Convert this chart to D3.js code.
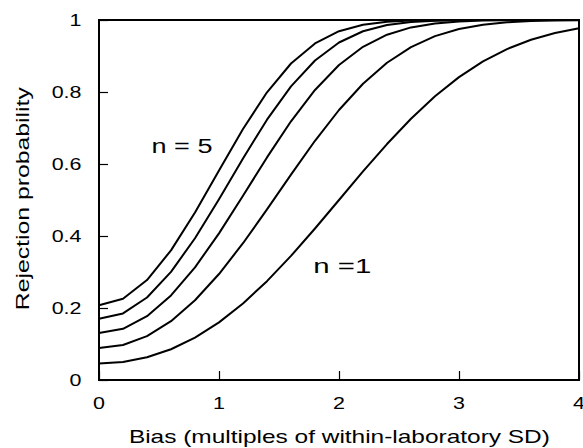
<!DOCTYPE html>
<html>
<head>
<meta charset="utf-8">
<script src="https://cdn.jsdelivr.net/npm/d3@7"></script>
<style>
  html, body { margin: 0; padding: 0; background: #fff; }
  svg { display: block; }
  text { font-family: "Liberation Sans", Arial, sans-serif; fill: #000; }
</style>
</head>
<body>
<svg id="chart" width="583" height="448"></svg>
<script>
// Bias values (multiples of within-laboratory SD)
const bias = [0, 0.2, 0.4, 0.6, 0.8, 1.0, 1.2, 1.4, 1.6, 1.8, 2.0,
              2.2, 2.4, 2.6, 2.8, 3.0, 3.2, 3.4, 3.6, 3.8, 4.0];

// Rejection probability for n control measurements
const n1 = [0.0455, 0.0498, 0.0630, 0.0854, 0.1176, 0.1600, 0.2126, 0.2746, 0.3447, 0.4208, 0.5000,
            0.5793, 0.6554, 0.7258, 0.7881, 0.8413, 0.8849, 0.9192, 0.9452, 0.9641, 0.9773];
const n2 = [0.0889, 0.0972, 0.1220, 0.1635, 0.2214, 0.2944, 0.3799, 0.4738, 0.5706, 0.6645, 0.7500,
            0.8230, 0.8813, 0.9248, 0.9551, 0.9748, 0.9868, 0.9935, 0.9970, 0.9987, 0.9995];
const n3 = [0.1304, 0.1422, 0.1773, 0.2350, 0.3130, 0.4073, 0.5117, 0.6183, 0.7187, 0.8057, 0.8750,
            0.9255, 0.9591, 0.9794, 0.9905, 0.9960, 0.9985, 0.9995, 0.9998, 0.9999, 1.0000];
const n4 = [0.1700, 0.1849, 0.2292, 0.3003, 0.3938, 0.5022, 0.6155, 0.7231, 0.8156, 0.8875, 0.9375,
            0.9687, 0.9859, 0.9943, 0.9980, 0.9994, 0.9998, 1.0000, 1.0000, 1.0000, 1.0000];
const n5 = [0.2077, 0.2255, 0.2777, 0.3601, 0.4651, 0.5818, 0.6972, 0.7991, 0.8792, 0.9348, 0.9688,
            0.9868, 0.9951, 0.9984, 0.9996, 0.9999, 1.0000, 1.0000, 1.0000, 1.0000, 1.0000];

const xTicks = [0, 1, 2, 3, 4];
const yTicks = [0, 0.2, 0.4, 0.6, 0.8, 1];
const yTickLabels = ["0", "0.2", "0.4", "0.6", "0.8", "1"];

const series = [n1, n2, n3, n4, n5];

const svg = d3.select("#chart");
const plotLeft = 99, plotRight = 579, plotTop = 20, plotBottom = 380;
const SX = 1.3; // horizontal stretch of the lettering

const x = d3.scaleLinear().domain([0, 4]).range([plotLeft, plotRight]);
const y = d3.scaleLinear().domain([0, 1]).range([plotBottom, plotTop]);

// Inward ticks
svg.append("g")
  .attr("transform", `translate(0,${plotBottom})`)
  .call(d3.axisTop(x).tickValues(xTicks).tickSize(9).tickFormat(""))
  .call(g => g.select(".domain").remove())
  .call(g => g.selectAll("line").attr("stroke", "#000").attr("stroke-width", 1.2));
svg.append("g")
  .attr("transform", `translate(${plotLeft},0)`)
  .call(d3.axisRight(y).tickValues(yTicks).tickSize(9).tickFormat(""))
  .call(g => g.select(".domain").remove())
  .call(g => g.selectAll("line").attr("stroke", "#000").attr("stroke-width", 1.2));

// Curves
const line = d3.line().x((d, i) => x(bias[i])).y(d => y(d));
svg.append("g").selectAll("path")
  .data(series)
  .join("path")
  .attr("d", line)
  .attr("fill", "none")
  .attr("stroke", "#000")
  .attr("stroke-width", 2)
  .attr("stroke-linejoin", "round");

// Plot frame
svg.append("rect")
  .attr("x", plotLeft).attr("y", plotTop)
  .attr("width", plotRight - plotLeft).attr("height", plotBottom - plotTop)
  .attr("fill", "none").attr("stroke", "#000").attr("stroke-width", 2);

// Tick labels
svg.append("g").selectAll("text")
  .data(xTicks)
  .join("text")
  .attr("transform", d => `translate(${x(d)},409) scale(${SX},1)`)
  .attr("text-anchor", "middle")
  .attr("font-size", 16.5)
  .text(d => d);

svg.append("g").selectAll("text")
  .data(yTicks)
  .join("text")
  .attr("transform", d => `translate(81.5,${y(d) + 6}) scale(${SX},1)`)
  .attr("text-anchor", "end")
  .attr("font-size", 16.5)
  .text((d, i) => yTickLabels[i]);

// Axis titles
svg.append("text")
  .attr("x", 339.4).attr("y", 443)
  .attr("text-anchor", "middle")
  .attr("font-size", 18.5)
  .attr("textLength", 421)
  .attr("lengthAdjust", "spacingAndGlyphs")
  .text("Bias (multiples of within-laboratory SD)");

svg.append("text")
  .attr("transform", "translate(28.5,198.7) rotate(-90)")
  .attr("text-anchor", "middle")
  .attr("font-size", 18.5)
  .attr("textLength", 223)
  .attr("lengthAdjust", "spacingAndGlyphs")
  .text("Rejection probability");

// Curve labels
svg.append("text")
  .attr("x", 151.5).attr("y", 153)
  .attr("font-size", 19.5)
  .attr("textLength", 61)
  .attr("lengthAdjust", "spacingAndGlyphs")
  .text("n = 5");

svg.append("text")
  .attr("x", 313.3).attr("y", 273.3)
  .attr("font-size", 19.5)
  .attr("textLength", 58)
  .attr("lengthAdjust", "spacingAndGlyphs")
  .text("n =1");
</script>
</body>
</html>
